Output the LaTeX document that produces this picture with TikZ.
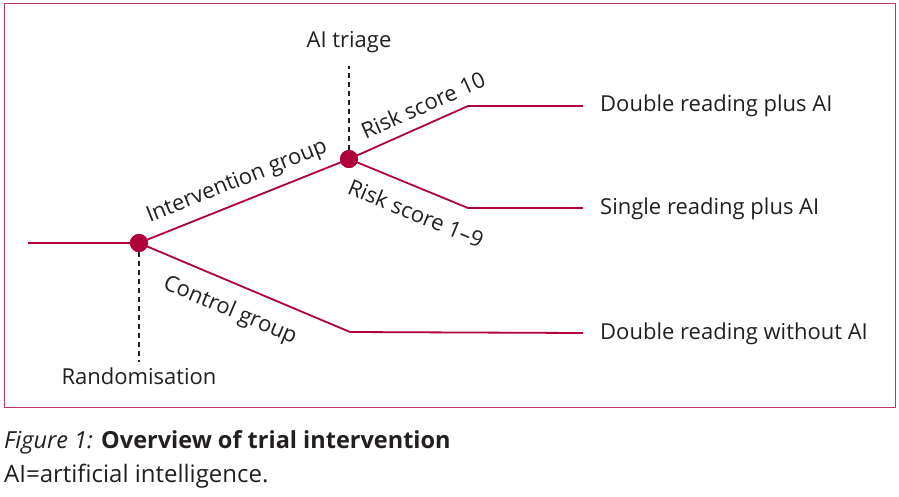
\documentclass[tikz,border=0pt]{standalone}
\usepackage{fontspec}
\setmainfont{Open Sans}
\definecolor{lancet}{HTML}{B0003A}
\definecolor{txt}{HTML}{231F20}
\begin{document}
\begin{tikzpicture}[x=1pt,y=-1pt,
  branch/.style={draw=lancet,line width=1.8pt},
  dotnode/.style={circle,fill=lancet,inner sep=0pt,minimum size=18pt},
  lbl/.style={font=\fontsize{22}{26}\selectfont,text=txt,inner sep=0pt},
  endlbl/.style={lbl,anchor=west},
  guide/.style={draw=txt,line width=1.3pt,dash pattern=on 5pt off 4pt}]
\useasboundingbox (0,0) rectangle (899,496);
\draw[lancet!80,line width=1pt] (4,3) rectangle (895,407);
% nodes
\coordinate (start) at (28,243);
\node[dotnode] (r) at (139,243) {};
\node[dotnode] (t) at (349,159) {};
\coordinate (hi) at (468,106);
\coordinate (hiE) at (583,106);
\coordinate (lo) at (468,208);
\coordinate (loE) at (583,208);
\coordinate (ct) at (350,332);
\coordinate (ctE) at (583,333);
\coordinate (rd) at (139,362);
\coordinate (td) at (349,66);
% connectors
\draw[branch] (start) -- (r.center);
\draw[branch] (r.center) -- (t.center);
\draw[branch] (r.center) -- (ct) -- (ctE);
\draw[branch] (t.center) -- (hi) -- (hiE);
\draw[branch] (t.center) -- (lo) -- (loE);
\draw[guide] (r.south) -- (rd);
\draw[guide] (t.north) -- (td);
\node[dotnode] at (139,243) {};
\node[dotnode] at (349,159) {};
% labels
\node[lbl] (randl) at (139,376) {Randomisation};
\node[lbl] (triagel) at (349,42) {AI triage};
\node[lbl,rotate=21.8] (intl) at (237,182) {Intervention group};
\node[lbl,rotate=-22.9] (ctl) at (230,311) {Control group};
\node[lbl,rotate=24] (r10) at (423,105) {Risk score 10};
\node[lbl,rotate=-22.4] (r19) at (416,213) {Risk score 1–9};
\node[endlbl] (e1) at (600,106) {Double reading plus AI};
\node[endlbl] (e2) at (600,209) {Single reading plus AI};
\node[endlbl] (e3) at (600,334) {Double reading without AI};
% caption
\node[lbl,anchor=west,font=\fontsize{23.5}{28}\selectfont] (cap) at (4,442) {\textit{Figure 1:} \textbf{Overview of trial intervention}};
\node[lbl,anchor=west,font=\fontsize{24}{28}\selectfont] (cap2) at (4,476) {AI=artificial intelligence.};
\end{tikzpicture}
\end{document}
